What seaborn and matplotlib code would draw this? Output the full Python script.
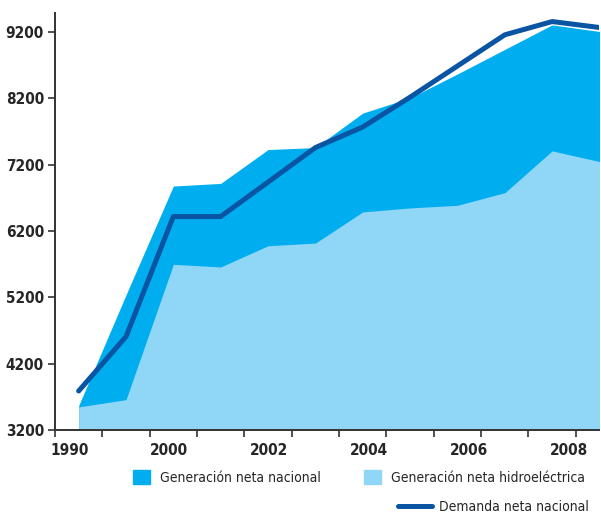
import numpy as np
import pandas as pd
import matplotlib
matplotlib.use("Agg")
import matplotlib.pyplot as plt
import seaborn as sns
from matplotlib.patches import Patch
from matplotlib.lines import Line2D

# datos (1998-2009)
years = ["1998", "1999", "2000", "2001", "2002", "2003", "2004",
         "2005", "2006", "2007", "2008", "2009"]
gen_nacional = [3570, 5240, 6880, 6920, 7430, 7460, 7980,
                8210, 8570, 8940, 9310, 9210]
gen_hidro = [3550, 3660, 5700, 5660, 5980, 6020, 6490,
             6550, 6590, 6780, 7410, 7250]
demanda = [3790, 4610, 6420, 6420, 6940, 7460, 7770,
           8220, 8690, 9160, 9360, 9270]
tick_labels = ["1990", "2000", "2002", "2004", "2006", "2008"]
y_ticks = [3200, 4200, 5200, 6200, 7200, 8200, 9200]

df = pd.DataFrame({"year": years, "nacional": gen_nacional,
                   "hidro": gen_hidro, "demanda": demanda})
df["x"] = np.arange(len(df))

sns.set_style("ticks")
plt.rcParams["font.family"] = ["DejaVu Sans"]
plt.rcParams["font.stretch"] = "condensed"

c_nac = "#00AEEF"
c_hid = "#90D7F7"
c_dem = "#0A55A3"

fig = plt.figure(figsize=(6.01, 5.17), dpi=100)
ax = fig.add_axes([0.0915, 0.168, 0.906, 0.807])

ax.fill_between(df["x"], 3200, df["nacional"], color=c_nac, lw=0)
ax.fill_between(df["x"], 3200, df["hidro"], color=c_hid, lw=0)
sns.lineplot(data=df, x="x", y="demanda", color=c_dem, lw=3.6,
             solid_capstyle="round", ax=ax)

ax.set_xlim(-0.5, 11)
ax.set_ylim(3200, 9490)
ax.set_yticks(y_ticks)
ax.set_yticklabels([str(v) for v in y_ticks], fontsize=11, fontweight="bold")

# etiquetas de anio (sin marca) y marcas en los limites de categoria
ax.set_xticks(np.linspace(-0.2, 10.36, len(tick_labels)))
ax.set_xticklabels(tick_labels, fontsize=11, fontweight="bold")
ax.set_xticks(np.arange(-0.5, 11, 1), minor=True)
ax.tick_params(axis="x", which="major", length=0, pad=9)
ax.tick_params(axis="x", which="minor", length=5, width=1.2, color="#333333")
ax.tick_params(axis="y", length=5, width=1.2, color="#333333", pad=3)
ax.set_xlabel("")
ax.set_ylabel("")

for s in ["top", "right"]:
    ax.spines[s].set_visible(False)
for s in ["left", "bottom"]:
    ax.spines[s].set_color("#333333")
    ax.spines[s].set_linewidth(1.4)

# leyenda: fila de areas + linea de demanda alineada a la derecha
fig.legend([Patch(color=c_nac), Patch(color=c_hid)],
           ["Generación neta nacional", "Generación neta hidroeléctrica"],
           ncol=2, loc="center left", bbox_to_anchor=(0.209, 0.077),
           frameon=False, fontsize=10, borderpad=0,
           handlelength=1.25, handleheight=1.25, columnspacing=3.1,
           handletextpad=0.7)
fig.legend([Line2D([0], [0], color=c_dem, lw=3.6, solid_capstyle="round")],
           ["Demanda neta nacional"], loc="center right",
           bbox_to_anchor=(0.992, 0.019), frameon=False, fontsize=10,
           borderpad=0, handlelength=2.5, handletextpad=0.5)

fig.savefig("out.png", dpi=100)
